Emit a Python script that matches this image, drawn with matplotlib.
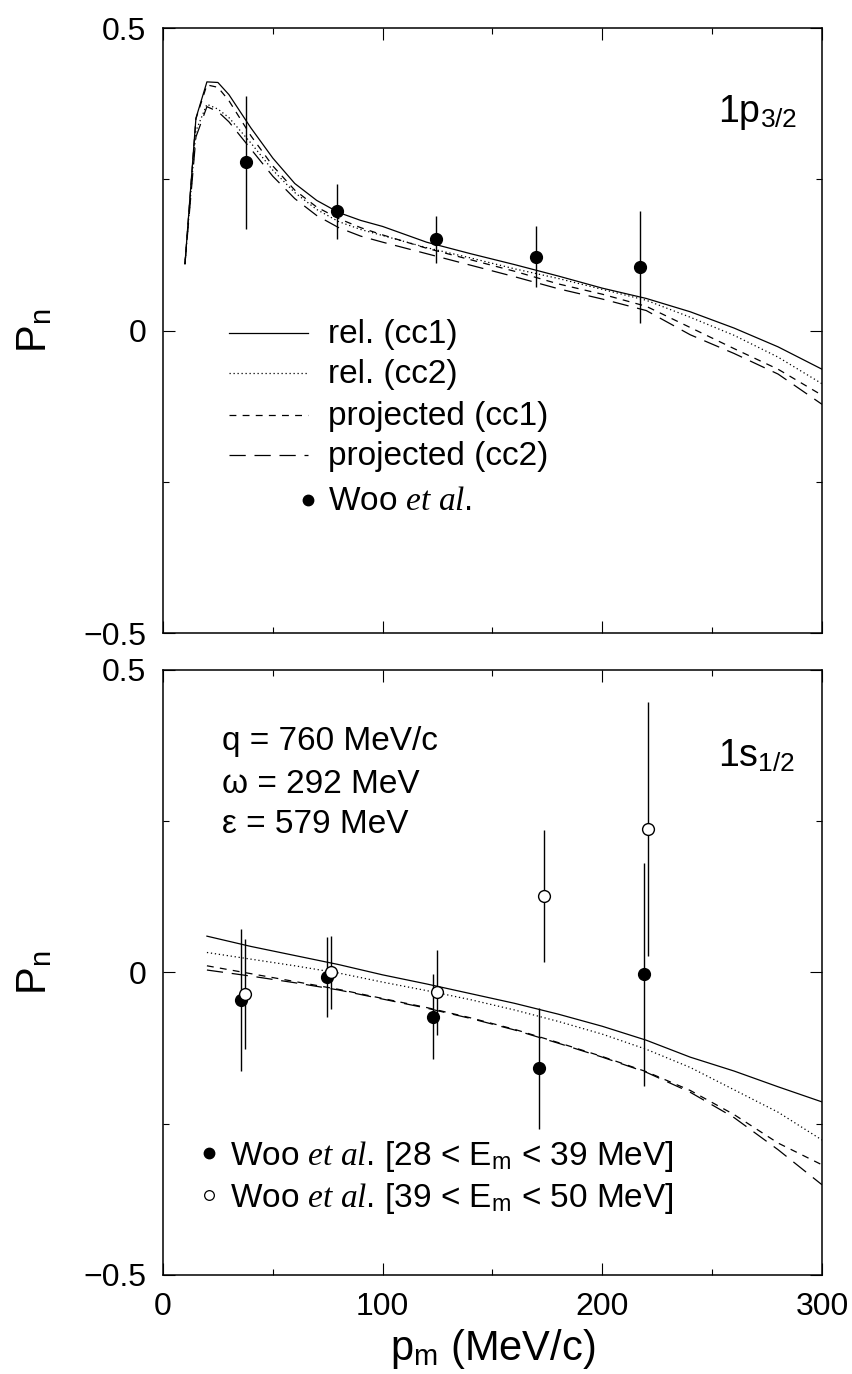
import matplotlib
matplotlib.use("Agg")
import matplotlib.pyplot as plt
from matplotlib.ticker import MultipleLocator

plt.rcParams['font.family'] = ['Liberation Sans', 'DejaVu Sans']
plt.rcParams['mathtext.fontset'] = 'custom'
plt.rcParams['mathtext.rm'] = 'Liberation Sans'
plt.rcParams['mathtext.it'] = 'Liberation Serif:italic'
plt.rcParams['mathtext.bf'] = 'Liberation Sans:bold'

# ---- 1p3/2 panel: calculations ----
p_top = [10, 15, 20, 25, 30, 40, 50, 60, 70, 80, 90, 100, 120, 140, 160,
         180, 200, 220, 240, 260, 280, 300]
rel_cc1_top = [0.110, 0.351, 0.411, 0.410, 0.390, 0.335, 0.285, 0.243, 0.215,
               0.195, 0.182, 0.172, 0.146, 0.127, 0.109, 0.090, 0.070, 0.053,
               0.031, 0.004, -0.027, -0.064]
rel_cc2_top = [0.110, 0.330, 0.374, 0.366, 0.352, 0.310, 0.265, 0.228, 0.200,
               0.180, 0.167, 0.157, 0.137, 0.120, 0.102, 0.086, 0.068, 0.050,
               0.022, -0.008, -0.044, -0.088]
proj_cc1_top = [0.110, 0.350, 0.406, 0.402, 0.380, 0.322, 0.272, 0.232, 0.204,
                0.185, 0.170, 0.158, 0.136, 0.117, 0.098, 0.077, 0.060, 0.040,
                0.005, -0.030, -0.064, -0.107]
proj_cc2_top = [0.110, 0.320, 0.370, 0.362, 0.345, 0.300, 0.255, 0.218, 0.190,
                0.170, 0.156, 0.146, 0.127, 0.108, 0.089, 0.069, 0.052, 0.033,
                -0.007, -0.038, -0.072, -0.122]

# ---- 1p3/2 panel: Woo et al. ----
woo_p_top = [38, 79, 124.5, 170, 217]
woo_pn_top = [0.278, 0.197, 0.151, 0.122, 0.105]
woo_err_top = [0.110, 0.045, 0.039, 0.050, 0.093]

# ---- 1s1/2 panel: calculations ----
p_bot = [20, 40, 60, 80, 100, 120, 140, 160, 180, 200, 220, 240, 260, 280, 300]
rel_cc1_bot = [0.060, 0.043, 0.028, 0.013, -0.004, -0.019, -0.035, -0.051,
               -0.069, -0.089, -0.112, -0.140, -0.163, -0.189, -0.214]
rel_cc2_bot = [0.033, 0.022, 0.011, -0.001, -0.016, -0.030, -0.045, -0.062,
               -0.081, -0.102, -0.127, -0.157, -0.194, -0.231, -0.277]
proj_cc1_bot = [0.011, -0.002, -0.015, -0.028, -0.043, -0.058, -0.075, -0.094,
                -0.116, -0.139, -0.164, -0.195, -0.235, -0.282, -0.318]
proj_cc2_bot = [0.004, -0.006, -0.017, -0.029, -0.044, -0.059, -0.076, -0.095,
                -0.117, -0.140, -0.165, -0.198, -0.240, -0.293, -0.351]

# ---- 1s1/2 panel: Woo et al., two missing-energy bins ----
woo1_p = [35.6, 74.7, 123.1, 171.3, 219]
woo1_pn = [-0.046, -0.008, -0.073, -0.158, -0.003]
woo1_err = [0.117, 0.066, 0.070, 0.100, 0.184]
woo2_p = [37.2, 76.7, 124.9, 173.3, 221]
woo2_pn = [-0.036, 0.000, -0.033, 0.127, 0.237]
woo2_err = [0.091, 0.060, 0.070, 0.109, 0.210]

styles = {
    'rel. (cc1)': dict(ls='-'),
    'rel. (cc2)': dict(ls=(0, (1.0, 2.2))),
    'projected (cc1)': dict(ls=(0, (5.5, 5.0))),
    'projected (cc2)': dict(ls=(0, (13, 7))),
}
LW = 0.9

fig = plt.figure(figsize=(8.52, 13.74), dpi=100)
ax1 = fig.add_axes([0.1913, 0.5393, 0.7735, 0.4403])
ax2 = fig.add_axes([0.1913, 0.0721, 0.7735, 0.4403])

for ax in (ax1, ax2):
    ax.set_xlim(0, 300)
    ax.set_ylim(-0.5, 0.5)
    ax.xaxis.set_major_locator(MultipleLocator(100))
    ax.xaxis.set_minor_locator(MultipleLocator(50))
    ax.set_yticks([-0.5, 0, 0.5])
    ax.set_yticklabels(['\u22120.5', '0', '0.5'])
    ax.yaxis.set_minor_locator(MultipleLocator(0.25))
    ax.tick_params(which='both', direction='in', top=True, right=True,
                   labelsize=23, width=0.8, pad=12)
    ax.tick_params(which='major', length=8.5)
    ax.tick_params(which='minor', length=4)
    for s in ax.spines.values():
        s.set_linewidth(1.1)
    ax.text(-0.194, 0.5, r'P$_\mathrm{n}$', transform=ax.transAxes,
            rotation=90, ha='center', va='center', fontsize=30)

ax1.tick_params(labelbottom=False)

# top panel
for lab, y in zip(styles, [rel_cc1_top, rel_cc2_top, proj_cc1_top, proj_cc2_top]):
    ax1.plot(p_top, y, color='black', lw=LW, **styles[lab])
ax1.errorbar(woo_p_top, woo_pn_top, yerr=woo_err_top, fmt='o', color='black',
             ms=8.5, elinewidth=1.0, capsize=0, zorder=5)
ax1.text(0.962, 0.845, r'1p$_\mathrm{3/2}$', transform=ax1.transAxes,
         ha='right', va='baseline', fontsize=27)

# manual legend, top panel
rows_h = [0.496, 0.430, 0.360, 0.294]
rows_t = [0.479, 0.413, 0.344, 0.278]
for lab, yh, yt in zip(styles, rows_h, rows_t):
    ax1.plot([0.100, 0.220], [yh, yh], transform=ax1.transAxes, color='black',
             lw=LW, **styles[lab])
    ax1.text(0.250, yt, lab, transform=ax1.transAxes, ha='left',
             va='baseline', fontsize=24)
ax1.plot([0.220], [0.220], 'o', color='black', ms=7.5, transform=ax1.transAxes)
ax1.text(0.250, 0.203, r'Woo $\mathit{et\ al}$.', transform=ax1.transAxes,
         ha='left', va='baseline', fontsize=24)

# bottom panel
for lab, y in zip(styles, [rel_cc1_bot, rel_cc2_bot, proj_cc1_bot, proj_cc2_bot]):
    ax2.plot(p_bot, y, color='black', lw=LW, **styles[lab])
ax2.errorbar(woo1_p, woo1_pn, yerr=woo1_err, fmt='o', color='black',
             ms=8.5, elinewidth=1.0, capsize=0, zorder=5)
ax2.errorbar(woo2_p, woo2_pn, yerr=woo2_err, fmt='o', mfc='white',
             mec='black', mew=1.0, color='black', ms=8.5, elinewidth=1.0,
             capsize=0, zorder=6)
ax2.text(0.959, 0.840, r'1s$_\mathrm{1/2}$', transform=ax2.transAxes,
         ha='right', va='baseline', fontsize=27)
for yt, s in zip([0.881, 0.810, 0.745],
                 ['q = 760 MeV/c', '\u03c9 = 292 MeV', '\u03b5 = 579 MeV']):
    ax2.text(0.089, yt, s, transform=ax2.transAxes, ha='left', va='center',
             fontsize=24)

ax2.plot([0.0693], [0.2017], 'o', color='black', ms=7.5, transform=ax2.transAxes)
ax2.plot([0.0693], [0.132], 'o', mfc='white', mec='black', mew=0.9, ms=7,
         transform=ax2.transAxes)
ax2.text(0.1017, 0.182, r'Woo $\mathit{et\ al}$. [28 < E$_\mathrm{m}$ < 39 MeV]',
         transform=ax2.transAxes, ha='left', va='baseline', fontsize=24)
ax2.text(0.1017, 0.113, r'Woo $\mathit{et\ al}$. [39 < E$_\mathrm{m}$ < 50 MeV]',
         transform=ax2.transAxes, ha='left', va='baseline', fontsize=24)

ax2.text(0.5, -0.1405, r'p$_\mathrm{m}$ (MeV/c)', transform=ax2.transAxes,
         ha='center', va='baseline', fontsize=30)

fig.savefig('out.png', dpi=100)
